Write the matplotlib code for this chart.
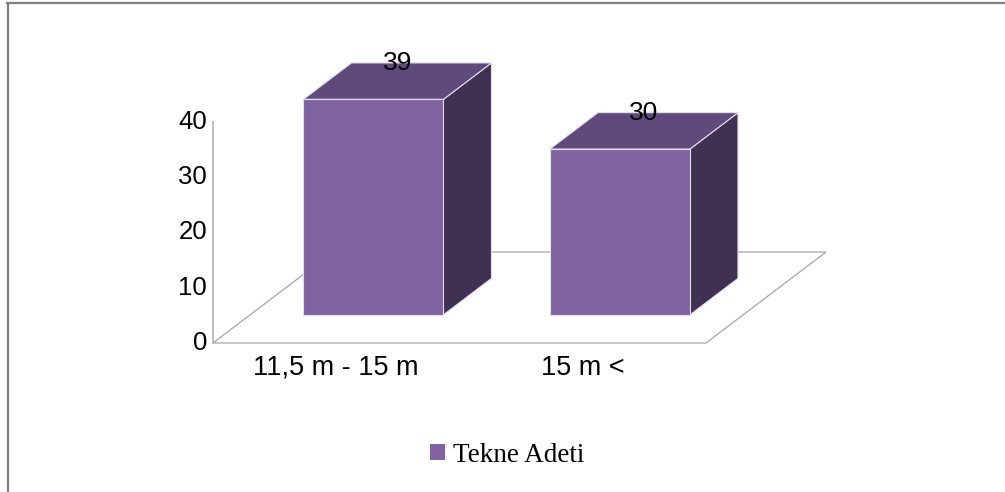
import matplotlib
matplotlib.use("Agg")
import matplotlib.pyplot as plt
from matplotlib.patches import Polygon, Patch
from matplotlib.lines import Line2D

# data
categories = ["11,5 m - 15 m", "15 m <"]
tekne_adeti = [39, 30]
y_ticks = [0, 10, 20, 30, 40]
series_name = "Tekne Adeti"

# colours
front_color = "#8064A2"
top_color = "#604A7B"
side_color = "#403152"
edge_color = "#E4DDEC"
grid_color = "#A6A6A6"

# oblique projection of the floor depth (data units)
depth_dx = 0.487
depth_dy = 16.47
bar_front, bar_back = 0.31, 0.71
bar_width = 0.568

fig = plt.figure(figsize=(10.05, 4.92), dpi=100)
ax = fig.add_axes([0, 0, 1, 1])
ax.set_xlim(-0.8641, 3.2130)
ax.set_ylim(-26.97, 62.08)
ax.axis("off")

n = len(categories)
font = "Liberation Sans"

# floor
floor = [(0, 0), (n, 0), (n + depth_dx, depth_dy), (depth_dx, depth_dy)]
ax.add_patch(Polygon(floor, closed=True, facecolor="white", edgecolor=grid_color,
                     linewidth=0.9, zorder=1))

# value axis
ax.plot([0, 0], [0, max(y_ticks)], color="#BFBFBF", linewidth=1.5, zorder=2)
for t in y_ticks:
    ax.text(-0.024, t, str(t), ha="right", va="center", fontsize=18.5,
            family=font, color="black")

# bars: front faces through ax.bar, top and side faces as polygons
centers = [i + 0.5 for i in range(n)]
fx0 = bar_front * depth_dx
fy0 = bar_front * depth_dy
bdx = (bar_back - bar_front) * depth_dx
bdy = (bar_back - bar_front) * depth_dy

ax.bar([c + fx0 for c in centers], tekne_adeti, width=bar_width, bottom=fy0,
       color=front_color, edgecolor=edge_color, linewidth=0.8, zorder=4)

for c, v in zip(centers, tekne_adeti):
    left = c + fx0 - bar_width / 2
    right = c + fx0 + bar_width / 2
    top = fy0 + v
    side = [(right, fy0), (right + bdx, fy0 + bdy), (right + bdx, top + bdy), (right, top)]
    roof = [(left, top), (right, top), (right + bdx, top + bdy), (left + bdx, top + bdy)]
    ax.add_patch(Polygon(side, closed=True, facecolor=side_color, edgecolor=edge_color,
                         linewidth=0.8, zorder=3))
    ax.add_patch(Polygon(roof, closed=True, facecolor=top_color, edgecolor=edge_color,
                         linewidth=0.8, zorder=3))
    ax.text(c + fx0 + bdx / 2, top + bdy, str(v), ha="center", va="center",
            fontsize=19, family=font, color="black", zorder=6)

# category labels
for c, lab in zip(centers, categories):
    ax.text(c, -4.45, lab, ha="center", va="center", fontsize=19.5,
            family=font, color="black")

# legend
fig.legend(handles=[Patch(facecolor=front_color, edgecolor="none", label=series_name)],
           loc="center", bbox_to_anchor=(0.505, 0.075), frameon=False,
           prop={"family": "Liberation Serif", "size": 19.5},
           handlelength=0.56, handleheight=0.56, handletextpad=0.3)

# chart frame (top and left edges)
fig.add_artist(Line2D([0.007, 1.0], [0.994, 0.994], transform=fig.transFigure,
                      color="#7F7F7F", linewidth=1.6))
fig.add_artist(Line2D([0.0075, 0.0075], [0.0, 0.994], transform=fig.transFigure,
                      color="#7F7F7F", linewidth=1.6))

fig.savefig("out.png", dpi=100)
